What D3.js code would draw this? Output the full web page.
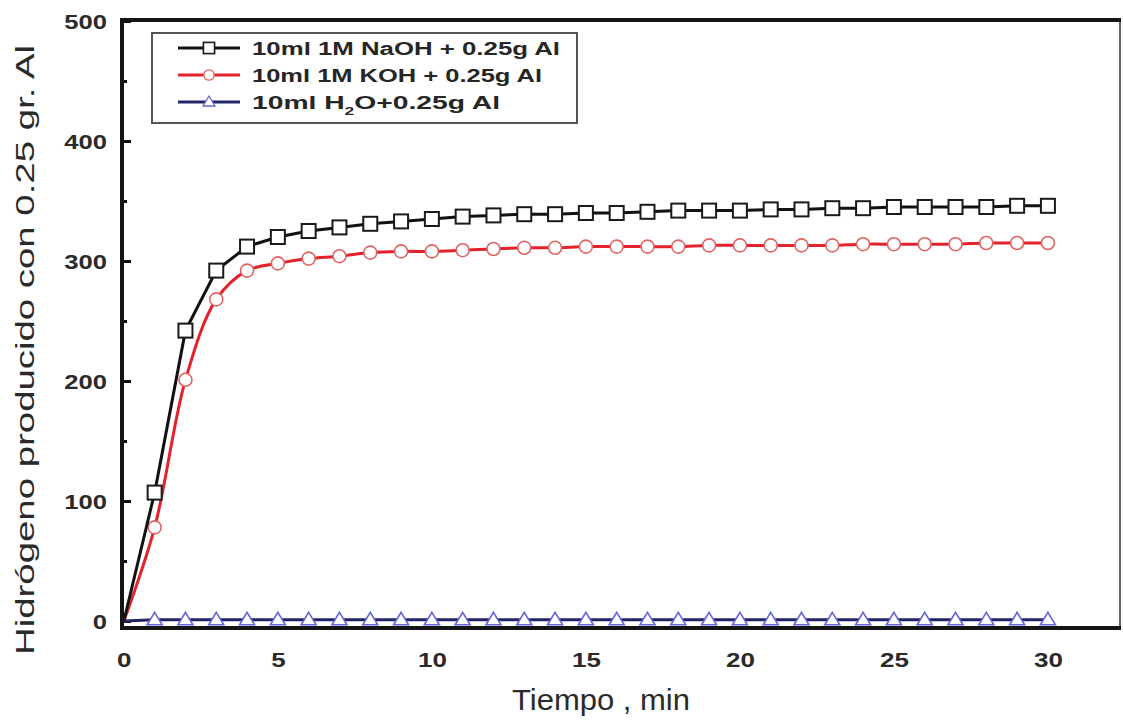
<!DOCTYPE html>
<html>
<head>
<meta charset="utf-8">
<script src="https://cdn.jsdelivr.net/npm/d3@7"></script>
<style>
  body { margin: 0; background: #fff; }
  text { font-family: "Liberation Sans", Arial, sans-serif; }
</style>
</head>
<body>
<svg id="chart" width="1123" height="727"></svg>
<script>
// time in minutes
const minutes = [0, 1, 2, 3, 4, 5, 6, 7, 8, 9, 10, 11, 12, 13, 14, 15, 16, 17, 18, 19, 20,
                 21, 22, 23, 24, 25, 26, 27, 28, 29, 30];
// hydrogen produced (ml) for each mixture
const naohValues = [0, 107, 242, 292, 312, 320, 325, 328, 331, 333, 335, 337, 338, 339, 339, 340,
                    340, 341, 342, 342, 342, 343, 343, 344, 344, 345, 345, 345, 345, 346, 346];
const kohValues = [0, 78, 201, 268, 292, 298, 302, 304, 307, 308, 308, 309, 310, 311, 311, 312,
                   312, 312, 312, 313, 313, 313, 313, 313, 314, 314, 314, 314, 315, 315, 315];
const waterValues = [0, 1, 1, 1, 1, 1, 1, 1, 1, 1, 1, 1, 1, 1, 1, 1,
                     1, 1, 1, 1, 1, 1, 1, 1, 1, 1, 1, 1, 1, 1, 1];
const xTicks = [0, 5, 10, 15, 20, 25, 30];
const yTicks = [0, 100, 200, 300, 400, 500];
const yMinorTicks = [50, 150, 250, 350, 450];

const svg = d3.select("#chart");
const frame = {left: 122, right: 1120, top: 20, bottom: 628};

const x = d3.scaleLinear().domain([-0.06, 32.34]).range([frame.left, frame.right]);
const y = d3.scaleLinear().domain([-5.83, 500.83]).range([frame.bottom, frame.top]);

// series definitions
const series = [
    {name: "naoh", values: naohValues, line: "#111", stroke: "#1a1a1a", symbol: "square", curve: d3.curveLinear},
    {name: "koh", values: kohValues, line: "#e3222c", stroke: "#e06464", symbol: "circle", curve: d3.curveCatmullRom.alpha(0.5)},
    {name: "water", values: waterValues, line: "#22246a", stroke: "#6466dc", symbol: "triangle", curve: d3.curveLinear}
];

function drawMarker(sel, symbol, stroke) {
    if (symbol === "square") {
        sel.append("rect").attr("x", -7).attr("y", -7).attr("width", 14).attr("height", 14)
            .attr("fill", "#fff").attr("stroke", stroke).attr("stroke-width", 2);
    } else if (symbol === "circle") {
        sel.append("circle").attr("r", 6.5)
            .attr("fill", "#fff").attr("stroke", stroke).attr("stroke-width", 1.6);
    } else {
        sel.append("path").attr("d", "M0,-7.5L7.5,5L-7.5,5Z")
            .attr("fill", "#fff").attr("stroke", stroke).attr("stroke-width", 1.6);
    }
}

// axes (ticks point inward)
const yAxis = svg.append("g").attr("transform", `translate(${frame.left},0)`)
    .call(d3.axisLeft(y).tickValues(yTicks).tickSizeInner(-9).tickSizeOuter(0).tickPadding(15));
svg.append("g").attr("transform", `translate(${frame.left},0)`)
    .call(d3.axisLeft(y).tickValues(yMinorTicks).tickSizeInner(-5).tickSizeOuter(0).tickFormat(""));
const xAxis = svg.append("g").attr("transform", `translate(0,${frame.bottom})`)
    .call(d3.axisBottom(x).tickValues(xTicks).tickSizeInner(0).tickSizeOuter(0).tickPadding(25));

svg.selectAll(".domain").remove();
svg.selectAll(".tick line").attr("stroke", "#111").attr("stroke-width", 3);

yAxis.selectAll("text")
    .attr("x", 0).attr("dy", "0.35em")
    .attr("transform", "translate(-15,0) scale(1.28,1)");
[yAxis, xAxis].forEach(ax => ax.selectAll("text")
    .attr("fill", "#2a2a2a").style("font-size", "20px").style("font-weight", "bold"));
xAxis.selectAll("text").attr("transform", "scale(1.3,1)");

// frame
svg.append("line").attr("x1", frame.right).attr("x2", frame.right)
    .attr("y1", frame.top).attr("y2", frame.bottom).attr("stroke", "#666").attr("stroke-width", 2);
svg.append("line").attr("x1", frame.left).attr("x2", frame.right + 1)
    .attr("y1", frame.top).attr("y2", frame.top).attr("stroke", "#151515").attr("stroke-width", 4);
svg.append("line").attr("x1", frame.left).attr("x2", frame.right + 1)
    .attr("y1", frame.bottom).attr("y2", frame.bottom).attr("stroke", "#151515").attr("stroke-width", 4);
svg.append("line").attr("x1", frame.left).attr("x2", frame.left)
    .attr("y1", frame.top - 2).attr("y2", frame.bottom + 2).attr("stroke", "#151515").attr("stroke-width", 4);

// lines and markers
const plot = svg.append("g");
series.slice().reverse().forEach(s => {
    const pts = minutes.map((m, i) => [m, s.values[i]]);
    plot.append("path")
        .datum(pts)
        .attr("fill", "none")
        .attr("stroke", s.line)
        .attr("stroke-width", 3)
        .attr("d", d3.line().x(d => x(d[0])).y(d => y(d[1])).curve(s.curve));
    plot.selectAll(".m-" + s.name)
        .data(pts.slice(1))
        .join("g")
        .attr("class", "m-" + s.name)
        .attr("transform", d => `translate(${x(d[0])},${y(d[1])})`)
        .each(function() { drawMarker(d3.select(this), s.symbol, s.stroke); });
});

// legend
const legend = svg.append("g");
legend.append("rect").attr("x", 152).attr("y", 33).attr("width", 425).attr("height", 90)
    .attr("fill", "#fff").attr("stroke", "#555").attr("stroke-width", 2);
const legendRows = [
    {s: series[0], label: "10ml  1M  NaOH + 0.25g Al", len: 308},
    {s: series[1], label: "10ml  1M  KOH + 0.25g Al", len: 290},
    {s: series[2], label: null, len: 248}
];
legendRows.forEach((r, i) => {
    const cy = 48 + i * 27;
    const g = legend.append("g").attr("transform", `translate(0,${cy})`);
    g.append("line").attr("x1", 178).attr("x2", 240).attr("stroke", r.s.line).attr("stroke-width", 3);
    const mk = g.append("g").attr("transform", "translate(209,0) scale(0.8)");
    drawMarker(mk, r.s.symbol, r.s.stroke);
    const t = g.append("text").attr("x", 252).attr("y", 6.5)
        .attr("fill", "#262626").style("font-size", "18px").style("font-weight", "bold")
        .attr("textLength", r.len).attr("lengthAdjust", "spacingAndGlyphs");
    if (r.label) {
        t.text(r.label);
    } else {
        t.append("tspan").text("10ml  H");
        t.append("tspan").attr("dy", 6).style("font-size", "11px").text("2");
        t.append("tspan").attr("dy", -6).text("O+0.25g Al");
    }
});

// axis titles
svg.append("text")
    .attr("x", 601).attr("y", 710)
    .attr("text-anchor", "middle")
    .attr("fill", "#2a2a2a")
    .style("font-size", "29px")
    .attr("textLength", 178).attr("lengthAdjust", "spacingAndGlyphs")
    .text("Tiempo , min");
svg.append("text")
    .attr("transform", "translate(34,350) rotate(-90)")
    .attr("text-anchor", "middle")
    .attr("fill", "#2a2a2a")
    .style("font-size", "26px")
    .attr("textLength", 610).attr("lengthAdjust", "spacingAndGlyphs")
    .text("Hidrógeno producido con 0.25 gr. Al");
</script>
</body>
</html>
